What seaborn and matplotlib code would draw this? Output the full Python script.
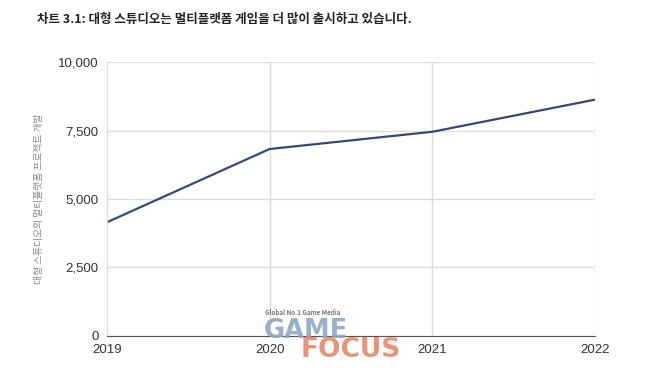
import pandas as pd
import matplotlib
matplotlib.use('Agg')
import matplotlib.pyplot as plt
import seaborn as sns

# data
years = [2019, 2020, 2021, 2022]
projects = [4150, 6830, 7460, 8635]
y_ticks = [0, 2500, 5000, 7500, 10000]

df = pd.DataFrame({'year': years, 'projects': projects})

sns.set_style('white')
plt.rcParams['font.family'] = ['Noto Sans CJK KR', 'DejaVu Sans']

fig = plt.figure(figsize=(6.6, 3.71), dpi=100)
ax = fig.add_axes([0.162, 0.095, 0.7395, 0.737])

sns.lineplot(data=df, x='year', y='projects', ax=ax, color='#334a78',
             linewidth=1.6)

ax.set_xlim(years[0], years[-1])
ax.set_ylim(y_ticks[0], y_ticks[-1])
ax.set_xticks(years)
ax.set_yticks(y_ticks)
ax.set_yticklabels(['{:,}'.format(v) for v in y_ticks])
ax.grid(True, color='#dddddd', linewidth=1)
ax.tick_params(axis='both', labelsize=9.5, colors='#333333', length=0)
ax.tick_params(axis='x', pad=6)
ax.tick_params(axis='y', pad=6)
for lab in ax.get_xticklabels() + ax.get_yticklabels():
    lab.set_family(['Liberation Sans', 'DejaVu Sans'])

ax.spines['top'].set_visible(False)
ax.spines['right'].set_visible(False)
ax.spines['left'].set_color('#dddddd')
ax.spines['bottom'].set_color('#555555')
ax.set_xlabel('')
ax.set_ylabel('대형 스튜디오의 멀티플랫폼 프로젝트 개발', fontsize=7,
              color='#888888', labelpad=10)

fig.text(0.056, 0.947, '차트 3.1: 대형 스튜디오는 멀티플랫폼 게임을 더 많이 출시하고 있습니다.',
         fontsize=9.0, fontweight='bold', color='#222222', va='center')

# watermark
fig.text(0.402, 0.152, 'Global No.1 Game Media', fontsize=4.5,
         fontweight='bold', color='#555555', alpha=0.8)
fig.text(0.400, 0.088, 'GAME', fontsize=18.5, fontweight='bold',
         color='#8fa6c4', alpha=0.9, family=['DejaVu Sans'])
fig.text(0.455, 0.038, 'FOCUS', fontsize=19, fontweight='bold',
         color='#e8876a', alpha=0.9, family=['DejaVu Sans'])

fig.savefig('out.png', dpi=100)
